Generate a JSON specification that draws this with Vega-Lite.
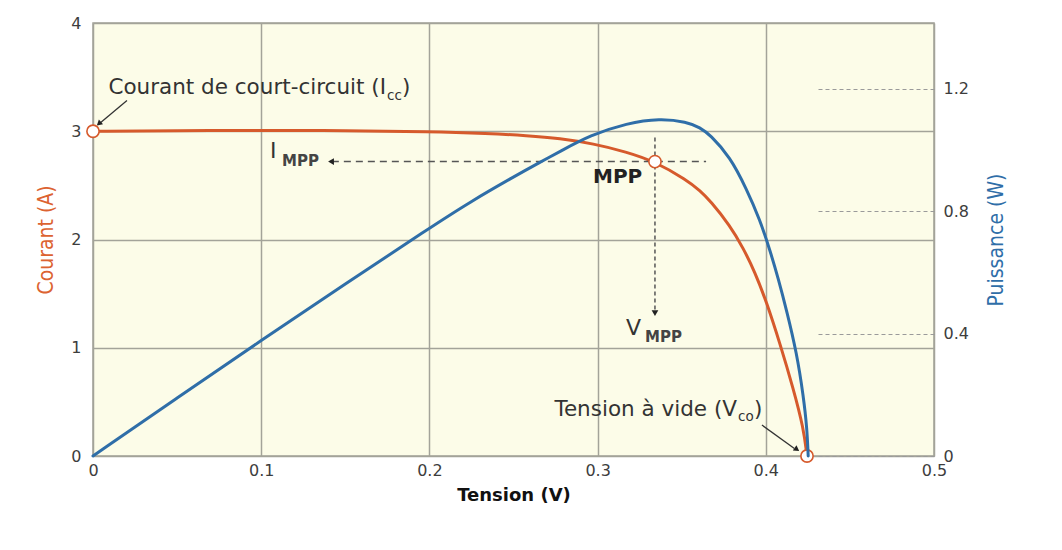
{
  "$schema": "https://vega.github.io/schema/vega-lite/v6.json",
  "width": 841,
  "height": 433,
  "autosize": {"type": "none"},
  "padding": {"left": 93, "top": 23, "right": 128, "bottom": 94},
  "background": "white",
  "config": {
    "view": {"fill": "#fcfce8", "stroke": "#a3a399", "strokeWidth": 1.5},
    "font": "DejaVu Sans"
  },
  "datasets": {
    "iv": [
      {"V": 0, "I": 3.0}, {"V": 0.05, "I": 3.005}, {"V": 0.1, "I": 3.008}, {"V": 0.15, "I": 3.006},
      {"V": 0.2, "I": 2.998}, {"V": 0.235, "I": 2.98}, {"V": 0.258, "I": 2.96}, {"V": 0.2776, "I": 2.935},
      {"V": 0.2975, "I": 2.885}, {"V": 0.317, "I": 2.81}, {"V": 0.3341, "I": 2.72}, {"V": 0.353, "I": 2.55},
      {"V": 0.361, "I": 2.45}, {"V": 0.3668, "I": 2.36}, {"V": 0.3787, "I": 2.13}, {"V": 0.3866, "I": 1.92},
      {"V": 0.3935, "I": 1.7}, {"V": 0.4005, "I": 1.42}, {"V": 0.4084, "I": 1.04}, {"V": 0.4164, "I": 0.62},
      {"V": 0.4224, "I": 0.26}, {"V": 0.4245, "I": 0}
    ],
    "pv": [
      {"V": 0, "P": 0}, {"V": 0.05, "P": 0.19}, {"V": 0.1, "P": 0.378}, {"V": 0.15, "P": 0.562},
      {"V": 0.2, "P": 0.745}, {"V": 0.2241, "P": 0.83}, {"V": 0.25, "P": 0.912}, {"V": 0.2658, "P": 0.96},
      {"V": 0.2776, "P": 0.995}, {"V": 0.2955, "P": 1.048}, {"V": 0.3175, "P": 1.088}, {"V": 0.337, "P": 1.103},
      {"V": 0.353, "P": 1.092}, {"V": 0.361, "P": 1.073}, {"V": 0.3668, "P": 1.05}, {"V": 0.3787, "P": 0.978},
      {"V": 0.3886, "P": 0.872}, {"V": 0.3965, "P": 0.772}, {"V": 0.4025, "P": 0.672}, {"V": 0.4074, "P": 0.58},
      {"V": 0.4124, "P": 0.475}, {"V": 0.4184, "P": 0.336}, {"V": 0.4224, "P": 0.194}, {"V": 0.4245, "P": 0.09},
      {"V": 0.4252, "P": 0}
    ],
    "pts": [
      {"V": 0, "I": 3.0}, {"V": 0.3341, "I": 2.72}, {"V": 0.4245, "I": 0}
    ],
    "rules": [
      {"g": "h", "V": 0.142, "I": 2.72, "V2": 0.3645, "I2": 2.72},
      {"g": "v", "V": 0.3341, "I": 2.943, "V2": 0.3341, "I2": 1.34},
      {"g": "a", "V": 0.0202, "I": 3.284, "V2": 0.003, "I2": 3.06},
      {"g": "a", "V": 0.3977, "I": 0.286, "V2": 0.417, "I2": 0.07}
    ],
    "heads": [
      {"g": "left", "V": 0.1415, "I": 2.72},
      {"g": "down", "V": 0.3341, "I": 1.319},
      {"g": "icc", "V": 0.0035, "I": 3.07},
      {"g": "voc", "V": 0.4185, "I": 0.06}
    ],
    "txt": [
      {"g": "main", "t": "Courant de court-circuit (I", "V": 0.1742, "I": 3.395},
      {"g": "main", "t": "Tension à vide (V", "V": 0.3829, "I": 0.424},
      {"g": "sub", "t": "cc", "V": 0.1748, "I": 3.33},
      {"g": "sub", "t": "co", "V": 0.3835, "I": 0.36},
      {"g": "close", "t": ")", "V": 0.1837, "I": 3.395},
      {"g": "close", "t": ")", "V": 0.393, "I": 0.424},
      {"g": "big", "t": "I", "V": 0.1052, "I": 2.814},
      {"g": "big", "t": "V", "V": 0.3169, "I": 1.181},
      {"g": "subB", "t": "MPP", "V": 0.1124, "I": 2.721},
      {"g": "subB", "t": "MPP", "V": 0.3282, "I": 1.098},
      {"g": "mpp", "t": "MPP", "V": 0.2973, "I": 2.574}
    ]
  },
  "encoding": {
    "x": {
      "field": "V", "type": "quantitative",
      "scale": {"domain": [0, 0.5], "nice": false, "zero": false},
      "axis": {
        "title": "Tension (V)", "values": [0, 0.1, 0.2, 0.3, 0.4, 0.5], "labelExpr": "format(datum.value, '~g')",
        "grid": true, "gridColor": "#a3a399", "gridWidth": 1.5, "ticks": false, "domain": false,
        "labelFont": "DejaVu Sans", "labelFontSize": 16, "labelColor": "#3d3d3d", "labelPadding": 6,
        "labelFlush": false,
        "titleFont": "DejaVu Sans", "titleFontSize": 18, "titleFontWeight": "bold", "titleColor": "#111111",
        "titlePadding": 8
      }
    }
  },
  "layer": [
    {
      "encoding": {
        "y": {
          "field": "I", "type": "quantitative",
          "scale": {"domain": [0, 4], "nice": false, "zero": false},
          "axis": {
            "title": "Courant (A)", "values": [0, 1, 2, 3, 4], "labelExpr": "format(datum.value, '~g')",
            "grid": true, "gridColor": "#a3a399", "gridWidth": 1.5, "ticks": false, "domain": false,
            "labelFont": "DejaVu Sans", "labelFontSize": 16, "labelColor": "#3d3d3d", "labelPadding": 12,
            "labelFlush": false,
            "titleFont": "'Liberation Sans Narrow', 'DejaVu Sans Condensed', sans-serif", "titleFontSize": 21,
            "titleFontWeight": "normal", "titleColor": "#dc6331", "titlePadding": 14
          }
        }
      },
      "layer": [
        {
          "data": {"name": "iv"},
          "mark": {"type": "line", "color": "#d65a2c", "strokeWidth": 3, "interpolate": "basis", "strokeCap": "round"}
        },
        {
          "data": {"name": "rules"},
          "transform": [{"filter": "datum.g === 'h'"}],
          "mark": {"type": "rule", "color": "#555555", "strokeWidth": 1.5, "strokeDash": [7, 5]},
          "encoding": {"x2": {"field": "V2"}, "y2": {"field": "I2"}}
        },
        {
          "data": {"name": "rules"},
          "transform": [{"filter": "datum.g === 'v'"}],
          "mark": {"type": "rule", "color": "#555555", "strokeWidth": 1.5, "strokeDash": [4, 3]},
          "encoding": {"x2": {"field": "V2"}, "y2": {"field": "I2"}}
        },
        {
          "data": {"name": "rules"},
          "transform": [{"filter": "datum.g === 'a'"}],
          "mark": {"type": "rule", "color": "#333333", "strokeWidth": 1.3},
          "encoding": {"x2": {"field": "V2"}, "y2": {"field": "I2"}}
        },
        {
          "data": {"name": "heads"},
          "transform": [{"filter": "datum.g === 'left'"}],
          "mark": {"type": "point", "shape": "triangle-left", "filled": true, "color": "#222222", "size": 45, "opacity": 1}
        },
        {
          "data": {"name": "heads"},
          "transform": [{"filter": "datum.g === 'down'"}],
          "mark": {"type": "point", "shape": "triangle-down", "filled": true, "color": "#222222", "size": 45, "opacity": 1}
        },
        {
          "data": {"name": "heads"},
          "transform": [{"filter": "datum.g === 'icc'"}],
          "mark": {"type": "point", "shape": "triangle-up", "angle": 229, "filled": true, "color": "#222222", "size": 40, "opacity": 1}
        },
        {
          "data": {"name": "heads"},
          "transform": [{"filter": "datum.g === 'voc'"}],
          "mark": {"type": "point", "shape": "triangle-up", "angle": 125, "filled": true, "color": "#222222", "size": 40, "opacity": 1}
        },
        {
          "data": {"name": "pts"},
          "mark": {"type": "point", "shape": "circle", "filled": true, "fill": "white", "stroke": "#d65a2c", "strokeWidth": 1.6, "size": 150, "opacity": 1}
        },
        {
          "data": {"name": "txt"},
          "transform": [{"filter": "datum.g === 'main'"}],
          "mark": {"type": "text", "align": "right", "baseline": "middle", "font": "DejaVu Sans", "fontSize": 21.5, "color": "#333333"},
          "encoding": {"text": {"field": "t"}}
        },
        {
          "data": {"name": "txt"},
          "transform": [{"filter": "datum.g === 'sub'"}],
          "mark": {"type": "text", "align": "left", "baseline": "middle", "font": "DejaVu Sans", "fontSize": 13.5, "color": "#333333"},
          "encoding": {"text": {"field": "t"}}
        },
        {
          "data": {"name": "txt"},
          "transform": [{"filter": "datum.g === 'close'"}],
          "mark": {"type": "text", "align": "left", "baseline": "middle", "font": "DejaVu Sans", "fontSize": 21.5, "color": "#333333"},
          "encoding": {"text": {"field": "t"}}
        },
        {
          "data": {"name": "txt"},
          "transform": [{"filter": "datum.g === 'big'"}],
          "mark": {"type": "text", "align": "left", "baseline": "middle", "font": "DejaVu Sans", "fontSize": 22, "color": "#333333"},
          "encoding": {"text": {"field": "t"}}
        },
        {
          "data": {"name": "txt"},
          "transform": [{"filter": "datum.g === 'subB'"}],
          "mark": {"type": "text", "align": "left", "baseline": "middle", "font": "DejaVu Sans", "fontSize": 15, "fontWeight": "bold", "color": "#444444"},
          "encoding": {"text": {"field": "t"}}
        },
        {
          "data": {"name": "txt"},
          "transform": [{"filter": "datum.g === 'mpp'"}],
          "mark": {"type": "text", "align": "left", "baseline": "middle", "font": "DejaVu Sans", "fontSize": 20, "fontWeight": "bold", "color": "#222222"},
          "encoding": {"text": {"field": "t"}}
        }
      ]
    },
    {
      "data": {"name": "pv"},
      "mark": {"type": "line", "color": "#2f6ea8", "strokeWidth": 3, "interpolate": "basis", "strokeCap": "round"},
      "encoding": {
        "y": {
          "field": "P", "type": "quantitative",
          "scale": {"domain": [0, 1.415], "nice": false, "zero": false},
          "axis": {
            "orient": "right", "title": "Puissance (W)", "values": [0, 0.4, 0.8, 1.2], "labelExpr": "format(datum.value, '~g')",
            "grid": false, "domain": false, "ticks": true, "tickSize": -118, "tickColor": "#9a9a9a",
            "tickDash": [4, 3], "tickWidth": 1.2,
            "labelFont": "DejaVu Sans", "labelFontSize": 16, "labelColor": "#3d3d3d", "labelPadding": 127,
            "labelFlush": false,
            "titleFont": "'Liberation Sans Narrow', 'DejaVu Sans Condensed', sans-serif", "titleFontSize": 21,
            "titleFontWeight": "normal", "titleColor": "#2f6ea8", "titleAngle": 270, "titleBaseline": "top",
            "titlePadding": 17
          }
        }
      }
    }
  ],
  "resolve": {"scale": {"y": "independent"}}
}
